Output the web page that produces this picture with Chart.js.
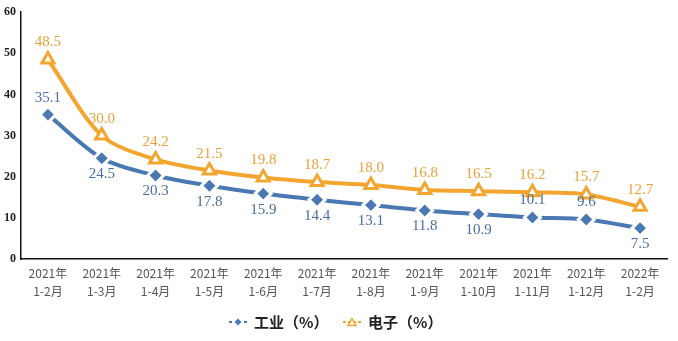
<!DOCTYPE html>
<html>
<head>
<meta charset="utf-8">
<script src="https://cdn.jsdelivr.net/npm/chart.js@4/dist/chart.umd.min.js"></script>
<style>
  html, body { margin: 0; padding: 0; background: #fff; }
  #wrap { width: 678px; height: 341px; }
</style>
</head>
<body>
<div id="wrap"><canvas id="c" width="678" height="341"></canvas></div>
<script>
// Cumulative growth, %: industry vs electronics
const yearLabels  = ['2021年','2021年','2021年','2021年','2021年','2021年','2021年','2021年','2021年','2021年','2021年','2022年'];
const monthLabels = ['1-2月','1-3月','1-4月','1-5月','1-6月','1-7月','1-8月','1-9月','1-10月','1-11月','1-12月','1-2月'];
const industry    = [35.1, 24.5, 20.3, 17.8, 15.9, 14.4, 13.1, 11.8, 10.9, 10.1, 9.6, 7.5];
const electronics = [48.5, 30.0, 24.2, 21.5, 19.8, 18.7, 18.0, 16.8, 16.5, 16.2, 15.7, 12.7];
const seriesNames = ['工业（%）', '电子（%）'];
const yTicks      = [0, 10, 20, 30, 40, 50, 60];

const BLUE = '#4A78B2';
const ORANGE = '#F2A630';
const BLUE_TEXT = '#4A6E9E';
const ORANGE_TEXT = '#E9A23A';

// where each value label sits relative to its point
const industryLabelSide = ['up','down','down','down','down','down','down','down','down','up','up','down'];

const categories = yearLabels.map((y, i) => [y, monthLabels[i]]);

// value labels
const valueLabels = {
  id: 'valueLabels',
  afterDatasetsDraw(chart) {
    const ctx = chart.ctx;
    ctx.save();
    ctx.font = '15px "Liberation Serif", "Times New Roman", serif';
    ctx.textAlign = 'center';
    ctx.textBaseline = 'middle';
    chart.data.datasets.forEach((ds, di) => {
      const meta = chart.getDatasetMeta(di);
      meta.data.forEach((pt, i) => {
        const v = ds.data[i];
        let dy;
        if (di === 0) {
          dy = industryLabelSide[i] === 'up' ? -17 : 16;
          ctx.fillStyle = BLUE_TEXT;
        } else {
          dy = -17;
          ctx.fillStyle = ORANGE_TEXT;
        }
        ctx.fillText(v.toFixed(1), pt.x, pt.y + dy);
      });
    });
    ctx.restore();
  }
};

// legend swatches: short line with marker
function swatch(color, kind) {
  const c = document.createElement('canvas');
  c.width = 18; c.height = 10;
  const g = c.getContext('2d');
  g.strokeStyle = color; g.lineWidth = 2;
  g.setLineDash([3, 2]);
  g.beginPath(); g.moveTo(0, 5); g.lineTo(18, 5); g.stroke();
  g.setLineDash([]);
  if (kind === 'diamond') {
    g.fillStyle = '#fff';
    g.beginPath(); g.moveTo(9, 0); g.lineTo(14, 5); g.lineTo(9, 10); g.lineTo(4, 5); g.closePath(); g.fill();
    g.fillStyle = color;
    g.beginPath(); g.moveTo(9, 1.5); g.lineTo(12.5, 5); g.lineTo(9, 8.5); g.lineTo(5.5, 5); g.closePath(); g.fill();
  } else {
    g.fillStyle = '#fff';
    g.beginPath(); g.moveTo(9, 1.5); g.lineTo(13, 8.5); g.lineTo(5, 8.5); g.closePath(); g.fill();
    g.strokeStyle = color; g.lineWidth = 1.5;
    g.stroke();
  }
  return c;
}

// legend drawn beneath the axis
const bottomLegend = {
  id: 'bottomLegend',
  afterDraw(chart) {
    const ctx = chart.ctx;
    ctx.save();
    ctx.font = 'bold 15px "Noto Sans CJK SC", sans-serif';
    ctx.textBaseline = 'middle';
    ctx.fillStyle = '#222';
    const y = 322;
    const items = [
      { x: 229, img: swatch(BLUE, 'diamond'), text: seriesNames[0] },
      { x: 343, img: swatch(ORANGE, 'triangle'), text: seriesNames[1] }
    ];
    items.forEach(it => {
      ctx.drawImage(it.img, it.x, y - 5);
      ctx.fillText(it.text, it.x + 25, y);
    });
    ctx.restore();
  }
};

new Chart(document.getElementById('c'), {
  type: 'line',
  data: {
    labels: categories,
    datasets: [
      {
        label: seriesNames[0],
        data: industry,
        borderColor: BLUE,
        borderWidth: 4,
        tension: 0.3,
        pointStyle: 'rectRot',
        pointRadius: 8,
        pointBackgroundColor: BLUE,
        pointBorderColor: '#fff',
        pointBorderWidth: 3
      },
      {
        label: seriesNames[1],
        data: electronics,
        borderColor: ORANGE,
        borderWidth: 4,
        tension: 0.3,
        pointStyle: 'triangle',
        pointRadius: 7,
        pointBackgroundColor: '#fff',
        pointBorderColor: ORANGE,
        pointBorderWidth: 3
      }
    ]
  },
  options: {
    responsive: false,
    animation: false,
    devicePixelRatio: 1,
    layout: { padding: { top: 9, right: 3, bottom: 37, left: 0 } },
    plugins: {
      legend: { display: false },
      tooltip: { enabled: false }
    },
    scales: {
      x: {
        offset: true,
        grid: { display: false, drawTicks: false },
        border: { display: true, color: '#111', width: 1.5 },
        ticks: {
          color: '#555',
          font: { family: '"Noto Sans CJK SC", sans-serif', size: 12, lineHeight: 1.5 },
          padding: 5,
          maxRotation: 0,
          autoSkip: false
        },
        afterFit(s) { s.height = 45; }
      },
      y: {
        min: 0,
        max: 60,
        afterBuildTicks(s) { s.ticks = yTicks.map(v => ({ value: v })); },
        grid: { display: false, drawTicks: false },
        border: { display: true, color: '#111', width: 1.5 },
        ticks: {
          color: '#222',
          font: { family: '"Liberation Serif", "Times New Roman", serif', size: 12, weight: 'bold' },
          padding: 5
        },
        afterFit(s) { s.width = 21; }
      }
    }
  },
  plugins: [valueLabels, bottomLegend]
});
</script>
</body>
</html>
